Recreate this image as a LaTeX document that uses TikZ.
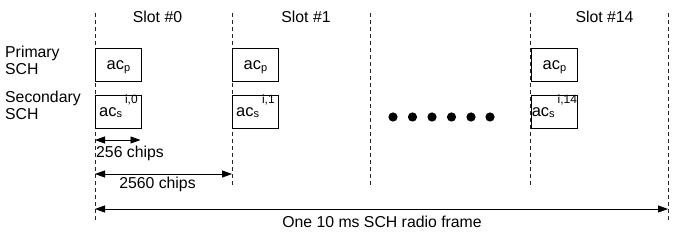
\documentclass[tikz,border=0pt]{standalone}
\usepackage{fontspec}
\setmainfont{Liberation Sans}
\usetikzlibrary{arrows.meta}
\newcommand\acp{ac{\fontsize{11}{11}\selectfont\raisebox{-2pt}{p}}}
\newcommand\acs[1]{ac{\fontsize{11}{11}\selectfont\raisebox{-1.5pt}{s}\hspace{3pt}{\fontsize{12}{12}\selectfont\raisebox{12.3pt}{#1}}}}
\begin{document}
\begin{tikzpicture}[x=1pt,y=-1pt,
  lbl/.style={font=\fontsize{15.8}{17}\selectfont, inner sep=0pt, anchor=base},
  side/.style={font=\fontsize{15.8}{17}\selectfont, inner sep=0pt, align=left, anchor=north west},
  boxtxt/.style={font=\fontsize{16.5}{16.5}\selectfont, inner sep=0pt, anchor=base},
  slotline/.style={dash pattern=on 4pt off 3pt, line width=0.9pt, draw=black!85},
  codebox/.style={draw, line width=0.8pt, minimum width=46pt, minimum height=33pt, inner sep=0pt, anchor=west},
  dim/.style={line width=0.8pt, {Triangle[length=10pt,width=7pt]}-{Triangle[length=10pt,width=7pt]}},
  dotc/.style={fill=black}
]
\useasboundingbox (0,0) rectangle (683,240);
% slot boundaries
\coordinate (t0) at (95,13);   \coordinate (b0) at (95,220);
\coordinate (t1) at (232,13);  \coordinate (b1) at (232,186);
\coordinate (t2) at (370,13);  \coordinate (b2) at (370,186);
\coordinate (t3) at (530,13);  \coordinate (b3) at (530,186);
\coordinate (t4) at (668,13);  \coordinate (b4) at (668,220);
\foreach \i in {0,...,4} {\draw[slotline] (t\i) -- (b\i);}
% slot labels
\node[lbl] (s0) at (157.5,23) {Slot \#0};
\node[lbl] (s1) at (306,23) {Slot \#1};
\node[lbl] (s14) at (604.5,23) {Slot \#14};
% row labels
\node[side] (prim) at (5,45.5) {Primary\\SCH};
\node[side] (sec) at (5,90.5) {Secondary\\SCH};
% boxes
\node[codebox] (p0) at (95,64.75) {};
\node[codebox] (q0) at (95,111.5) {};
\node[codebox] (p1) at (232,64.75) {};
\node[codebox] (q1) at (232,111.5) {};
\node[codebox] (p14) at (531,64.75) {};
\node[codebox] (q14) at (531,111.5) {};
\node[boxtxt] (tp0) at ([yshift=-4.5pt]p0.center) {\acp};
\node[boxtxt] (tq0) at ([yshift=-4.8pt]q0.center) {\acs{i,0}};
\node[boxtxt] (tp1) at ([yshift=-4.5pt]p1.center) {\acp};
\node[boxtxt] (tq1) at ([yshift=-4.8pt]q1.center) {\acs{i,1}};
\node[boxtxt] (tp14) at ([yshift=-4.5pt]p14.center) {\acp};
\node[boxtxt] (tq14) at ([yshift=-4.8pt]q14.center) {\acs{i,14}};
% dots
\foreach \x in {393,412.5,432,451.5,471,490} {\fill[dotc] (\x,117) circle (4.6);}
% dimension arrows
\coordinate (a1l) at (95,140);  \coordinate (a1r) at (140.5,140);
\coordinate (a2l) at (95,174);  \coordinate (a2r) at (232,174);
\coordinate (a3l) at (95,209);  \coordinate (a3r) at (668,209);
\draw[dim] (a1l) -- (a1r);
\draw[dim] (a2l) -- (a2r);
\draw[dim] (a3l) -- (a3r);
\node[lbl, anchor=base west] (l1) at (96,157.5) {256 chips};
\node[lbl] (l2) at (157.5,188.5) {2560 chips};
\node[lbl] (l3) at (382,228) {One 10 ms SCH radio frame};
\end{tikzpicture}
\end{document}
